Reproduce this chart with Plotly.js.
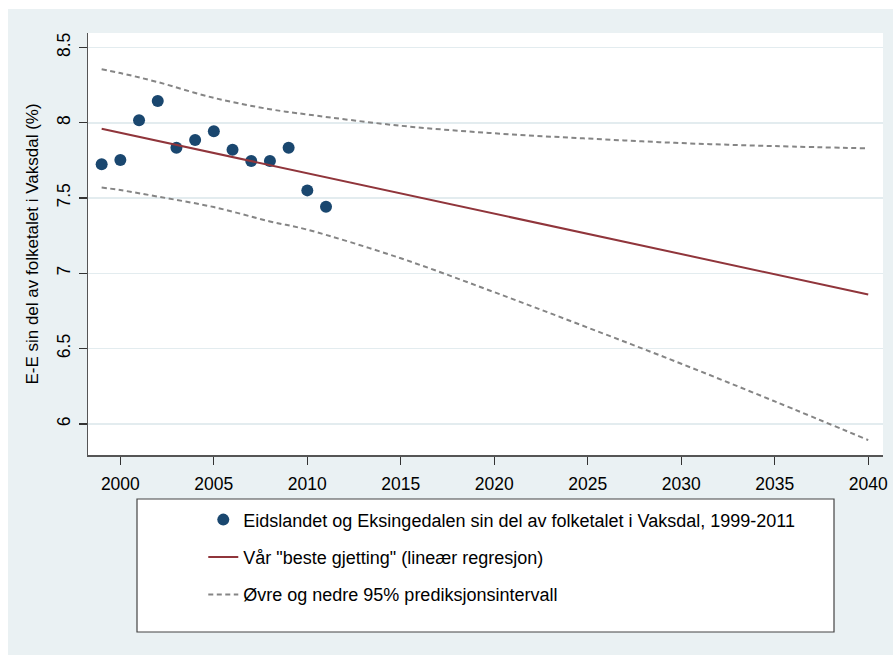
<!DOCTYPE html>
<html>
<head>
<meta charset="utf-8">
<script src="https://cdn.plot.ly/plotly-3.0.1.min.js"></script>
<style>
  html, body { margin: 0; padding: 0; background: #ffffff; }
  #chart { position: absolute; left: 8px; top: 9px; width: 885px; height: 646px; }
</style>
</head>
<body>
<div id="chart"></div>
<script>
// Observed data: share of population (%)
var years = [1999, 2000, 2001, 2002, 2003, 2004, 2005, 2006, 2007, 2008, 2009, 2010, 2011];
var share = [7.724, 7.752, 8.016, 8.144, 7.834, 7.885, 7.943, 7.821, 7.746, 7.746, 7.834, 7.551, 7.442];

// Regression line
var fitYears = [1999, 2040];
var fitValues = [7.96, 6.86];

// Prediction interval bands
var bandYears = [1999, 2000, 2002, 2005, 2008, 2010, 2015, 2020, 2025, 2030, 2035, 2040];
var upperValues = [8.355, 8.33, 8.27, 8.165, 8.09, 8.055, 7.98, 7.93, 7.895, 7.865, 7.845, 7.83];
var lowerValues = [7.57, 7.553, 7.51, 7.44, 7.345, 7.29, 7.10, 6.875, 6.64, 6.40, 6.15, 5.893];

// Tick labels
var xTicks = [2000, 2005, 2010, 2015, 2020, 2025, 2030, 2035, 2040];
var yTicks = [6, 6.5, 7, 7.5, 8, 8.5];
var yTickText = ['6', '6.5', '7', '7.5', '8', '8.5'];

var legendLabels = {
  points: 'Eidslandet og Eksingedalen sin del av folketalet i Vaksdal, 1999-2011',
  fit: 'Vår "beste gjetting" (lineær regresjon)',
  band: 'Øvre og nedre 95% prediksjonsintervall'
};

var FONT = '"Liberation Sans", Arial, sans-serif';
var BG = '#EAF1F3';
var GRID = '#E3ECEF';

var traces = [
  {
    x: years, y: share, type: 'scatter', mode: 'markers',
    name: legendLabels.points, legendgroup: 'g1',
    marker: { color: '#1A476F', size: 12 }
  },
  {
    x: fitYears, y: fitValues, type: 'scatter', mode: 'lines',
    name: legendLabels.fit, legendgroup: 'g2',
    line: { color: '#90353B', width: 2 }
  },
  {
    x: bandYears, y: upperValues, type: 'scatter', mode: 'lines',
    name: legendLabels.band, legendgroup: 'g3',
    line: { color: '#858585', width: 2, dash: '5px,3.5px', shape: 'spline' }
  },
  {
    x: bandYears, y: lowerValues, type: 'scatter', mode: 'lines',
    name: legendLabels.band, legendgroup: 'g3', showlegend: false,
    line: { color: '#858585', width: 2, dash: '5px,3.5px', shape: 'spline' }
  }
];

var layout = {
  width: 885, height: 646,
  margin: { l: 80, r: 10, t: 24, b: 200 },
  paper_bgcolor: BG,
  plot_bgcolor: '#ffffff',
  font: { family: FONT, size: 17, color: '#000000' },
  xaxis: {
    range: [1998.27, 2040.79],
    tickvals: xTicks,
    ticktext: xTicks.map(String),
    ticks: 'outside', ticklen: 8, tickwidth: 1.2, tickcolor: '#333333',
    ticklabelstandoff: 4,
    showline: true, linecolor: '#555555', linewidth: 1.5,
    showgrid: false, zeroline: false,
    tickfont: { family: FONT, size: 17.5, color: '#000000' }
  },
  yaxis: {
    range: [5.794, 8.596],
    tickvals: yTicks,
    ticktext: yTickText,
    tickangle: -90,
    ticks: 'outside', ticklen: 8, tickwidth: 1.2, tickcolor: '#333333',
    ticklabelstandoff: 2,
    showline: true, linecolor: '#555555', linewidth: 1.5,
    showgrid: true, gridcolor: GRID, gridwidth: 1.6,
    zeroline: false,
    tickfont: { family: FONT, size: 17.5, color: '#000000' },
    title: { text: 'E-E sin del av folketalet i Vaksdal (%)', font: { family: FONT, size: 17, color: '#000000' }, standoff: 10 }
  },
  showlegend: true,
  legend: {
    x: 0.145, xanchor: 'left',
    y: -0.11, yanchor: 'top',
    bgcolor: 'rgba(0,0,0,0)',
    borderwidth: 0,
    traceorder: 'grouped',
    tracegroupgap: 11,
    font: { family: FONT, size: 18, color: '#000000' },
    itemwidth: 30
  },
  shapes: [
    {
      type: 'rect', xref: 'paper', yref: 'paper', layer: 'below',
      x0: (129 - 80) / 795, x1: (826 - 80) / 795,
      y0: (446 - 623) / 422, y1: (446 - 490) / 422,
      fillcolor: '#ffffff',
      line: { color: '#444444', width: 1.2 }
    }
  ]
};

Plotly.newPlot('chart', traces, layout, { displayModeBar: false, staticPlot: true });
</script>
</body>
</html>
